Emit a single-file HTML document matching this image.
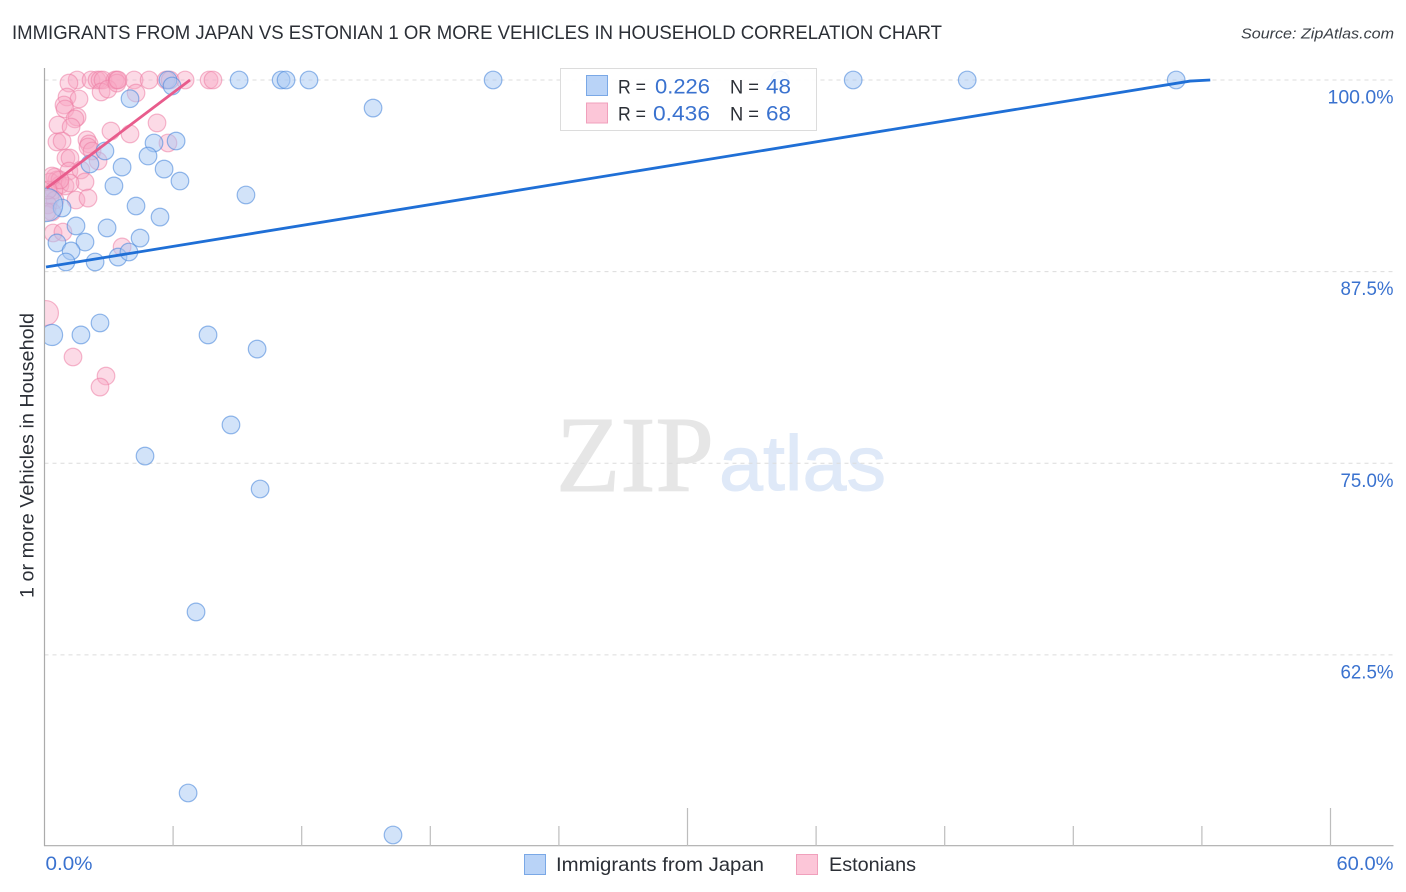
<!DOCTYPE html>
<html lang="en">
<head>
<meta charset="utf-8">
<title>Immigrants from Japan vs Estonian 1 or more vehicles in household correlation chart</title>
<style>
html,body{margin:0;padding:0;background:#fff;}
body{width:1406px;height:892px;overflow:hidden;}
svg{display:block;font-family:"Liberation Sans",sans-serif;}
</style>
</head>
<body>
<svg id="chart" xmlns="http://www.w3.org/2000/svg" width="1406" height="892" viewBox="0 0 1406 892">
  <defs><clipPath id="plot-clip"><rect x="45" y="60" width="1349" height="786"/></clipPath></defs>
  <text x="12" y="39" font-size="19" fill="#2b2f36" textLength="930" lengthAdjust="spacingAndGlyphs">IMMIGRANTS FROM JAPAN VS ESTONIAN 1 OR MORE VEHICLES IN HOUSEHOLD CORRELATION CHART</text>
  <text x="1241" y="38.5" font-size="15" font-style="italic" fill="#3a3f46" textLength="153" lengthAdjust="spacingAndGlyphs">Source: ZipAtlas.com</text>
  <text x="556" y="491" font-family="'Liberation Serif',serif" font-size="108" fill="#e6e6e6" stroke="#e6e6e6" stroke-width="1" textLength="158" lengthAdjust="spacingAndGlyphs">ZIP</text>
  <text x="719" y="490" font-size="78" fill="#dfe9f8" stroke="#dfe9f8" stroke-width="1" textLength="167" lengthAdjust="spacingAndGlyphs">atlas</text>
  <g id="grid"></g>
  <g id="axes"></g>
  <g id="pink-points" clip-path="url(#plot-clip)"></g>
  <g id="blue-points" clip-path="url(#plot-clip)"></g>
  <g id="trends"></g>
  <text transform="translate(33.5,598) rotate(-90)" font-size="19.5" fill="#2b2f36" textLength="285" lengthAdjust="spacingAndGlyphs">1 or more Vehicles in Household</text>
  <g>
    <rect x="560.5" y="68.5" width="256" height="62" fill="#fff" fill-opacity="0.9" stroke="#dcdcdc" stroke-width="1"/>
    <rect x="586.5" y="75.5" width="21" height="20" fill="#b9d3f7" stroke="#7aa8e6"/>
    <rect x="586.5" y="103" width="21" height="20" fill="#fcc6d8" stroke="#f0a0bc"/>
    <text x="618" y="93.5" font-size="19.5" fill="#2b2f36" textLength="28" lengthAdjust="spacingAndGlyphs">R =</text>
    <text x="655" y="93.5" font-size="21" fill="#3a72cf" textLength="55" lengthAdjust="spacingAndGlyphs">0.226</text>
    <text x="730" y="93.5" font-size="19.5" fill="#2b2f36" textLength="29" lengthAdjust="spacingAndGlyphs">N =</text>
    <text x="766" y="93.5" font-size="21" fill="#3a72cf" textLength="25" lengthAdjust="spacingAndGlyphs">48</text>
    <text x="618" y="120.5" font-size="19.5" fill="#2b2f36" textLength="28" lengthAdjust="spacingAndGlyphs">R =</text>
    <text x="653" y="120.5" font-size="21" fill="#3a72cf" textLength="57" lengthAdjust="spacingAndGlyphs">0.436</text>
    <text x="730" y="120.5" font-size="19.5" fill="#2b2f36" textLength="29" lengthAdjust="spacingAndGlyphs">N =</text>
    <text x="766" y="120.5" font-size="21" fill="#3a72cf" textLength="25" lengthAdjust="spacingAndGlyphs">68</text>
  </g>
  <g>
    <rect x="524.5" y="854.5" width="21" height="20" fill="#b9d3f7" stroke="#7aa8e6"/>
    <text x="556" y="871" font-size="19.5" fill="#2b2f36" textLength="208" lengthAdjust="spacingAndGlyphs">Immigrants from Japan</text>
    <rect x="796.5" y="854.5" width="21" height="20" fill="#fcc6d8" stroke="#f0a0bc"/>
    <text x="829" y="871" font-size="19.5" fill="#2b2f36" textLength="87" lengthAdjust="spacingAndGlyphs">Estonians</text>
  </g>
</svg>
<script>
// Percent values
const yTickValues = [100, 87.5, 75, 62.5];
const yTickLabels = ['100.0%', '87.5%', '75.0%', '62.5%'];
const xTickValues = [6, 12, 18, 24, 30, 36, 42, 48, 54, 60];
const xMajorTicks = [30, 60];
const xEndValues = [0, 60];
const xEndLabels = ['0.0%', '60.0%'];

const japanX = [5.76,5.95,9.08,11.04,11.27,12.34,20.93,34.32,37.73,43.05,52.80,15.33,3.99,6.14,5.11,4.83,2.82,2.12,3.62,5.58,6.32,3.24,9.40,4.27,5.39,0.82,1.47,2.92,4.46,1.89,0.58,1.24,1.00,2.36,3.43,3.94,2.59,1.70,0.35,7.63,9.92,8.70,4.69,10.06,7.07,6.70,16.26,0.07];
const japanY = [100,99.61,100,100,100,100,100,100,100,100,100,98.17,98.78,96.02,95.89,95.04,95.37,94.52,94.32,94.19,93.41,93.09,92.50,91.78,91.06,91.65,90.48,90.35,89.69,89.43,89.37,88.85,88.13,88.13,88.45,88.78,84.15,83.37,83.37,83.37,82.45,77.50,75.47,73.32,65.30,53.49,50.75,91.85];
const japanWeight = [1,1,1,1,1,1,1,1,1,1,1,1,1,1,1,1,1,1,1,1,1,1,1,1,1,1,1,1,1,1,1,1,1,1,1,1,1,1,1.45,1,1,1,1,1,1,1,1,3.6];

const estoniaX = [1.52,2.17,2.45,2.59,2.73,3.29,3.38,4.18,4.88,5.67,5.86,6.56,7.68,7.86,1.14,2.64,2.96,4.27,1.05,1.61,0.91,0.96,1.52,1.42,0.63,1.24,3.10,5.25,3.99,5.76,0.58,0.82,1.98,2.08,2.03,2.22,1.00,1.19,2.50,1.14,1.70,1.89,0.49,0.58,0.26,0.72,0.96,1.19,0.44,1.47,2.03,0.26,0.49,0.16,0.35,0.40,0.86,3.62,0.07,1.33,2.87,2.59,3.38,0.72,0.16,0.12,0.35,3.43];
const estoniaY = [100,100,100,100,100,100,100,100,100,100,100,100,100,100,99.80,99.22,99.41,99.15,98.89,98.76,98.37,98.11,97.59,97.46,97.06,96.93,96.67,97.20,96.48,95.89,95.96,96.02,96.09,95.83,95.63,95.37,94.91,94.91,94.72,94.06,94.13,93.35,93.67,93.48,93.35,93.15,93.09,93.28,92.82,92.17,92.30,92.30,92.17,91.85,91.39,90.02,90.08,89.11,84.80,81.93,80.69,79.97,99.80,93.48,92.82,91.39,93.74,100];
const estoniaWeight = [1,1,1,1,1,1,1,1,1,1,1,1,1,1,1,1,1,1,1,1,1,1,1,1,1,1,1,1,1,1,1,1,1,1,1,1,1,1,1,1,1,1,1,1,1,1,1,1,1,1,1,1,1,1,1,1,1,1,2,1,1,1,1,1,1,1,1,1];

const japanTrendX = [0.07, 53.45, 54.39];
const japanTrendY = [87.80, 99.93, 100];
const estoniaTrendX = [0.10, 6.79];
const estoniaTrendY = [92.95, 100];

const NS = 'http://www.w3.org/2000/svg';
const xScale = v => 44.5 + v * 21.4333;
const yScale = v => 80 + (100 - v) * 15.33;
const radius = w => 8.8 * Math.sqrt(w);
const labelWidth = s => s.length === 6 ? 66 : 53;

function make(tag, attrs, parent) {
  const el = document.createElementNS(NS, tag);
  Object.keys(attrs).forEach(k => el.setAttribute(k, attrs[k]));
  parent.appendChild(el);
  return el;
}

const grid = document.getElementById('grid');
const axes = document.getElementById('axes');

yTickValues.forEach((v, i) => {
  const line = make('line', {x1: 44.5, x2: 1393, y1: yScale(v), y2: yScale(v), stroke: '#dcdcdc', 'stroke-width': 1, 'stroke-dasharray': '4 4'}, grid);
  
  
  const w = labelWidth(yTickLabels[i]);
  const label = make('text', {x: 1393.5 - w, y: yScale(v) + 23.5, 'font-size': 19.5, fill: '#3a72cf', textLength: w, lengthAdjust: 'spacingAndGlyphs'}, axes);
  label.textContent = yTickLabels[i];
  
  
});

const yAxisLine = make('line', {x1: 44.5, x2: 44.5, y1: 68, y2: 846, stroke: '#ababab', 'stroke-width': 1.2}, axes);


const xAxisLine = make('line', {x1: 44, x2: 1393.5, y1: 845.7, y2: 845.7, stroke: '#ababab', 'stroke-width': 1.2}, axes);



xTickValues.forEach(v => {
  const top = xMajorTicks.includes(v) ? 808 : 826;
  const tick = make('line', {x1: xScale(v), x2: xScale(v), y1: top, y2: 846, stroke: '#bdbdbd', 'stroke-width': 1.2}, axes);
  
  
});

xEndValues.forEach((v, i) => {
  const w = i === 0 ? 47 : 57;
  const label = make('text', {x: i === 0 ? 45.5 : 1393.5 - w, y: 870, 'font-size': 19.5, fill: '#3a72cf', textLength: w, lengthAdjust: 'spacingAndGlyphs'}, axes);
  label.textContent = xEndLabels[i];
  
  
});

const pinkGroup = document.getElementById('pink-points');
estoniaX.forEach((v, i) => {
  const dot = make('circle', {cx: xScale(v), cy: yScale(estoniaY[i]), r: radius(estoniaWeight[i]), fill: '#f9a8c4', 'fill-opacity': 0.42, stroke: '#ec7ea4', 'stroke-opacity': 0.55, 'stroke-width': 1.2}, pinkGroup);
  
  
});

const blueGroup = document.getElementById('blue-points');
japanX.forEach((v, i) => {
  const dot = make('circle', {cx: xScale(v), cy: yScale(japanY[i]), r: radius(japanWeight[i]), fill: '#a6c8f4', 'fill-opacity': 0.5, stroke: '#4f8bdc', 'stroke-opacity': 0.6, 'stroke-width': 1.2}, blueGroup);
  
  
});

const trends = document.getElementById('trends');
const toPoints = (xs, ys) => xs.map((v, i) => xScale(v) + ',' + yScale(ys[i])).join(' ');
const blueTrend = make('polyline', {points: toPoints(japanTrendX, japanTrendY), fill: 'none', stroke: '#1f6fd6', 'stroke-width': 2.8}, trends);


const pinkTrend = make('polyline', {points: toPoints(estoniaTrendX, estoniaTrendY), fill: 'none', stroke: '#e85c8c', 'stroke-width': 2.8}, trends);


</script>
</body>
</html>
